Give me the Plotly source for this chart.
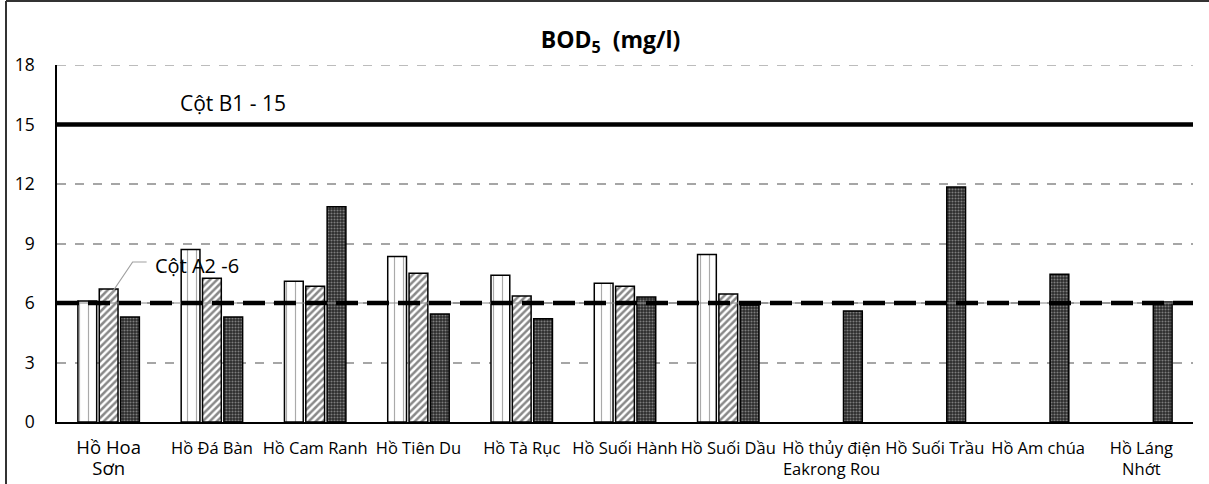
import plotly.graph_objects as go

categories = ["Hồ Hoa Sơn", "Hồ Đá Bàn", "Hồ Cam Ranh", "Hồ Tiên Du", "Hồ Tà Rục",
              "Hồ Suối Hành", "Hồ Suối Dầu", "Hồ thủy điện Eakrong Rou", "Hồ Suối Trầu",
              "Hồ Am chúa", "Hồ Láng Nhớt"]
tick_labels = ["<span style='font-size:18.5px'>Hồ Hoa<br>Sơn</span>", "Hồ Đá Bàn", "Hồ Cam Ranh",
               "Hồ Tiên Du", "Hồ Tà Rục", "Hồ Suối Hành", "Hồ Suối Dầu",
               "Hồ thủy điện<br>Eakrong Rou", "Hồ Suối Trầu", "Hồ Am chúa", "Hồ Láng<br>Nhớt"]
series1 = [6.1, 8.7, 7.1, 8.35, 7.4, 7.0, 8.45, None, None, None, None]
series2 = [6.7, 7.25, 6.85, 7.5, 6.35, 6.85, 6.45, None, None, None, None]
series3 = [5.3, 5.3, 10.85, 5.45, 5.2, 6.3, 5.9, 5.6, 11.85, 7.45, 6.05]
y_ticks = [0, 3, 6, 9, 12, 15, 18]
Y_MAX = 18
B1_LIMIT = 15
A2_LIMIT = 6
FONT = "Open Sans"

fig = go.Figure()
fig.add_trace(go.Bar(
    x=categories, y=series1, name="s1",
    marker=dict(color="white", line=dict(color="black", width=1.5),
                pattern=dict(shape="|", fgcolor="#555555", bgcolor="white", size=9, solidity=0.13)),
))
fig.add_trace(go.Bar(
    x=categories, y=series2, name="s2",
    marker=dict(color="white", line=dict(color="black", width=1.5),
                pattern=dict(shape="/", fgcolor="#111111", bgcolor="white", size=5, solidity=0.5)),
))
fig.add_trace(go.Bar(
    x=categories, y=series3, name="s3",
    marker=dict(color="#2a2a2a", line=dict(color="black", width=1.5),
                pattern=dict(shape=".", fgcolor="#d0d0d0", bgcolor="#2a2a2a", size=3, solidity=0.4)),
))

# Top gridline (at the range edge)
fig.add_shape(type="line", xref="paper", yref="y", x0=0, x1=1, y0=Y_MAX, y1=Y_MAX, layer="below",
              line=dict(color="#a6a6a6", width=1.5, dash="dash"))
# Standard lines
fig.add_shape(type="line", xref="paper", yref="y", x0=0, x1=1, y0=B1_LIMIT, y1=B1_LIMIT,
              line=dict(color="black", width=4.5))
fig.add_shape(type="line", xref="paper", yref="y", x0=0, x1=1, y0=A2_LIMIT, y1=A2_LIMIT,
              line=dict(color="#888888", width=1))
fig.add_shape(type="line", xref="paper", yref="y", x0=0, x1=1, y0=A2_LIMIT, y1=A2_LIMIT,
              line=dict(color="black", width=4.5, dash="22px,9px"))

# Outer frame (top and left edges)
fig.add_shape(type="line", xref="paper", yref="paper", x0=-51/1136, x1=(1209 - 57) / 1136,
              y0=1 + 64/357, y1=1 + 64/357, line=dict(color="#333333", width=2))
fig.add_shape(type="line", xref="paper", yref="paper", x0=-51/1136, x1=-51/1136, y0=-70/357, y1=1 + 64/357,
              line=dict(color="#333333", width=2))

fig.add_annotation(xref="paper", yref="y", x=(233 - 57) / 1136, y=B1_LIMIT, yshift=22,
                   xanchor="center", text="Cột B1 - 15", showarrow=False,
                   font=dict(size=21, color="black", family=FONT))
# A2 label with elbow leader line
fig.add_shape(type="path", xref="x", yref="y", xsizemode="pixel", ysizemode="pixel",
              xanchor=categories[0], yanchor=A2_LIMIT, path="M -1,4 L 24,41 L 38,41",
              line=dict(color="#a0a0a0", width=1.2))
fig.add_annotation(x=categories[0], y=A2_LIMIT, xshift=88, yshift=38, text="Cột A2 -6", showarrow=False,
                   font=dict(size=20, color="black", family=FONT))

fig.update_layout(
    width=1209, height=484,
    margin=dict(l=57, r=16, t=65, b=62, autoexpand=False),
    paper_bgcolor="white", plot_bgcolor="white",
    barmode="group", bargap=0.38, bargroupgap=0.12,
    showlegend=False,
    font=dict(family=FONT, color="black"),
    title=dict(text="<b>BOD<sub>5</sub>  (mg/l)</b>", x=0.505, xanchor="center",
               y=1 - 40 / 484, yanchor="middle",
               font=dict(size=23, family=FONT, color="black")),
)
fig.update_xaxes(type="category", tickvals=categories, ticktext=tick_labels,
                 tickfont=dict(size=16.5, family=FONT, color="black"),
                 showline=True, linecolor="black", linewidth=1.5, showgrid=False,
                 ticks="", tickangle=0, ticklabelstandoff=10, automargin=False)
fig.update_yaxes(range=[0, Y_MAX], tickvals=y_ticks, tickfont=dict(size=17.5, family=FONT, color="black"),
                 showgrid=True, gridcolor="#a6a6a6", gridwidth=1.5, griddash="dash",
                 showline=True, linecolor="black", linewidth=1.5, zeroline=False,
                 ticks="", ticklabelstandoff=17, automargin=False)

fig.write_html("out.html", config={"displayModeBar": False},
               post_script="document.body.style.margin='0px';document.body.style.overflow='hidden';")
